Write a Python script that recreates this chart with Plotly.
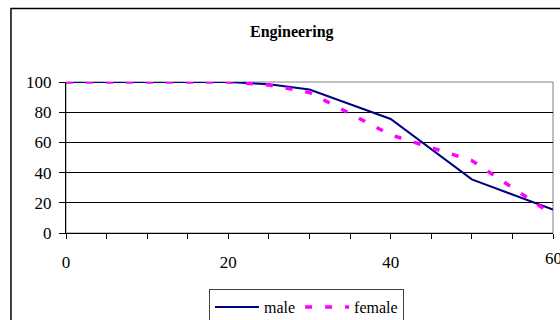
import plotly.graph_objects as go

age = [0, 20, 25, 30, 40, 50, 60]
male = [100, 100, 98.5, 95, 75.5, 35.5, 15.5]
female = [100, 100, 98, 93, 65, 48, 12]
x_ticks = [0, 20, 40]
x_last = 60
y_ticks = [0, 20, 40, 60, 80, 100]

FONT = "Liberation Serif"

fig = go.Figure()
fig.add_trace(go.Scatter(x=age, y=male, mode="lines", name="male",
                         line=dict(color="#000080", width=2), cliponaxis=False))
fig.add_trace(go.Scatter(x=age, y=female, mode="lines", name="female",
                         line=dict(color="#FF00FF", width=3.5, dash="7px,13px"),
                         cliponaxis=False))

fig.update_layout(
    width=560, height=320,
    margin=dict(l=66, r=7, t=82, b=87, autoexpand=False),
    paper_bgcolor="white", plot_bgcolor="white",
    font=dict(family=FONT, size=17, color="black"),
    title=dict(text="<b>Engineering</b>", x=0.521, xanchor="center",
               y=1 - 31 / 320, yanchor="middle",
               font=dict(family=FONT, size=16, color="black")),
    showlegend=True,
    legend=dict(orientation="h", xref="container", x=209 / 560, xanchor="left",
                yref="container", y=1 - 289 / 320, yanchor="top",
                bordercolor="#404040", borderwidth=1, bgcolor="white",
                font=dict(family=FONT, size=16, color="black"),
                itemwidth=44, tracegroupgap=0),
    xaxis=dict(range=[0, 60], tickvals=x_ticks, ticktext=[str(v) for v in x_ticks],
               showgrid=False, zeroline=False, showline=True, linecolor="black",
               linewidth=1, ticks="outside", ticklen=5, tickcolor="black",
               ticklabelstandoff=9,
               minor=dict(dtick=5, ticks="outside", ticklen=5, tickcolor="black",
                          showgrid=False)),
    yaxis=dict(range=[0, 100], tickvals=y_ticks, showgrid=True, gridcolor="black",
               gridwidth=1, zeroline=False, showline=True, linecolor="black",
               linewidth=1, ticks="outside", ticklen=6, tickcolor="black",
               ticklabelstandoff=4),
    shapes=[
        dict(type="rect", xref="paper", yref="paper", x0=0, x1=1, y0=0, y1=1,
             line=dict(color="#808080", width=1), layer="between"),
        dict(type="rect", xref="paper", yref="paper", x0=-0.113, x1=1.2,
             y0=-1.0, y1=(233 - 8.5) / 151,
             line=dict(color="black", width=1.5), layer="below"),
    ],
    annotations=[dict(x=x_last, xref="x", y=0, yref="paper", text=str(x_last),
                      showarrow=False, xanchor="center", yanchor="top", yshift=-14,
                      font=dict(family=FONT, size=17, color="black"))],
)

fig.write_html("out.html")
